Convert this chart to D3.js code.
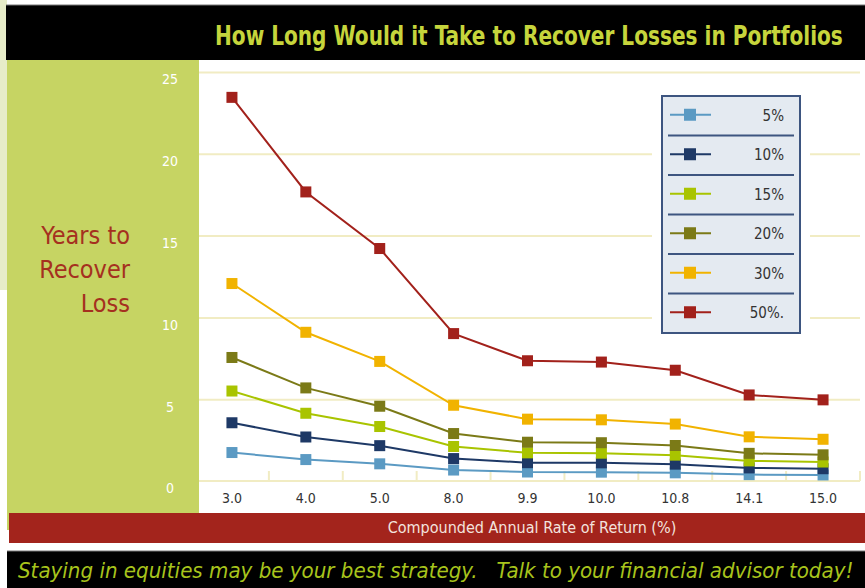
<!DOCTYPE html>
<html>
<head>
<meta charset="utf-8">
<script src="https://cdn.jsdelivr.net/npm/d3@7"></script>
<style>
  html, body { margin: 0; padding: 0; background: #fff; }
  svg { display: block; }
  text { font-family: 'Liberation Sans Narrow', 'DejaVu Sans Condensed', 'Roboto Condensed', sans-serif; }
</style>
</head>
<body>
<div id="chart"></div>
<script>
// ---------------------------------
// chart data
// ---------------------------------

var rates = ['3.0', '4.0', '5.0', '8.0', '9.9', '10.0', '10.8', '14.1', '15.0'];
var lossLabels = ['5%', '10%', '15%', '20%', '30%', '50%.'];
var yTicks = [0, 5, 10, 15, 20, 25];

// years to recover, one array per loss size
var loss5 = [1.74, 1.31, 1.05, 0.67, 0.55, 0.54, 0.50, 0.39, 0.37];
var loss10 = [3.56, 2.69, 2.16, 1.37, 1.12, 1.11, 1.03, 0.80, 0.75];
var loss15 = [5.50, 4.14, 3.33, 2.11, 1.72, 1.70, 1.58, 1.23, 1.16];
var loss20 = [7.55, 5.69, 4.57, 2.90, 2.37, 2.34, 2.17, 1.69, 1.60];
var loss30 = [12.07, 9.09, 7.31, 4.63, 3.78, 3.74, 3.48, 2.70, 2.55];
var loss50 = [23.45, 17.67, 14.21, 9.01, 7.35, 7.27, 6.77, 5.26, 4.96];

var colors = ['#5b9ac3', '#1e3966', '#a9c400', '#7b7a17', '#f1b300', '#a2211b'];

var series = [loss5, loss10, loss15, loss20, loss30, loss50].map(function (values, i) {
  return { name: lossLabels[i], color: colors[i], values: values };
});

var width = 865, height = 588;
var plot = { left: 199, right: 860, top: 72, bottom: 481 };

var svg = d3.select('#chart').append('svg')
  .attr('width', width)
  .attr('height', height);

// stretch or squeeze a text horizontally so it spans the given width
var fitText = function (text, x, y, targetWidth) {
  var natural = text.node().getComputedTextLength();
  var sx = targetWidth / natural;
  text.attr('transform', 'translate(' + x + ',' + y + ') scale(' + sx + ',1)');
};

// --------------
// page furniture
// --------------

// pale strip on the far left
svg.append('rect')
  .attr('x', 0).attr('y', 0)
  .attr('width', 7).attr('height', 290)
  .attr('fill', '#e7ecc8');

// title bar
svg.append('rect')
  .attr('x', 6).attr('y', 5)
  .attr('width', width - 6).attr('height', 55)
  .attr('fill', '#000');

svg.append('line')
  .attr('x1', 6).attr('x2', width)
  .attr('y1', 5).attr('y2', 5)
  .attr('stroke', '#777')
  .attr('stroke-width', 1);

var title = svg.append('text')
  .attr('font-size', '26px')
  .attr('font-weight', 'bold')
  .attr('fill', '#c6d53c')
  .text('How Long Would it Take to Recover Losses in Portfolios');
fitText(title, 215, 45, 628);

// green panel behind the y axis
svg.append('rect')
  .attr('x', 7).attr('y', 60)
  .attr('width', plot.left - 7).attr('height', 470)
  .attr('fill', '#c6d463');

// y axis title
var yTitle = svg.append('text')
  .attr('text-anchor', 'end')
  .attr('font-size', '25px')
  .attr('fill', '#a5301f');

['Years to', 'Recover', 'Loss'].forEach(function (line, i) {
  yTitle.append('tspan')
    .attr('x', 130)
    .attr('y', 244 + i * 34)
    .text(line);
});

// x axis title bar
svg.append('rect')
  .attr('x', 9).attr('y', 513)
  .attr('width', width - 9).attr('height', 30)
  .attr('fill', '#a3241c');

svg.append('text')
  .attr('x', 532)
  .attr('y', 533)
  .attr('text-anchor', 'middle')
  .attr('font-size', '16px')
  .attr('fill', '#f3e3de')
  .text('Compounded Annual Rate of Return (%)');

// footer bar
svg.append('rect')
  .attr('x', 7).attr('y', 551)
  .attr('width', width - 7).attr('height', height - 551)
  .attr('fill', '#000');

svg.append('line')
  .attr('x1', 7).attr('x2', width)
  .attr('y1', 551).attr('y2', 551)
  .attr('stroke', '#777')
  .attr('stroke-width', 1);

var footer = svg.append('text')
  .attr('font-size', '21px')
  .attr('font-style', 'italic')
  .attr('fill', '#a8c41c')
  .style('white-space', 'pre')
  .text('Staying in equities may be your best strategy.   Talk to your financial advisor today!');
fitText(footer, 18, 578, 836);

// ------
// scales
// ------

var x = d3.scaleBand()
  .domain(rates)
  .range([195, plot.right])
  .padding(0);

var y = d3.scaleLinear()
  .domain([0, 25])
  .range([plot.bottom, plot.top]);

// ---------
// gridlines
// ---------

var grid = svg.append('g')
  .attr('class', 'grid')
  .attr('transform', 'translate(' + plot.left + ',0)')
  .call(d3.axisRight(y).tickValues(yTicks.slice(1)).tickSize(plot.right - plot.left).tickFormat(''));

grid.select('.domain').remove();
grid.selectAll('line')
  .attr('stroke', '#f1ecc3')
  .attr('stroke-width', 2);

// y tick labels in white on the green panel
var yAxis = svg.append('g')
  .attr('class', 'y-axis')
  .attr('transform', 'translate(' + plot.left + ',0)')
  .call(d3.axisLeft(y).tickValues(yTicks).tickSize(0));

yAxis.select('.domain').remove();
yAxis.selectAll('text')
  .attr('x', -29)
  .attr('dy', '0.85em')
  .attr('text-anchor', 'middle')
  .attr('font-size', '14px')
  .attr('font-family', null)
  .attr('fill', '#fff');

// ------
// x axis
// ------

var xAxis = svg.append('g')
  .attr('class', 'x-axis')
  .attr('transform', 'translate(0,' + plot.bottom + ')')
  .call(d3.axisBottom(x).tickSize(0).tickPadding(12));

xAxis.select('.domain').remove();
xAxis.selectAll('text')
  .attr('font-size', '14px')
  .attr('font-family', null)
  .attr('fill', '#333');

svg.append('line')
  .attr('x1', plot.left).attr('x2', plot.right)
  .attr('y1', plot.bottom).attr('y2', plot.bottom)
  .attr('stroke', '#f1ecc3')
  .attr('stroke-width', 2);

// small ticks between categories, pointing up
svg.append('g')
  .attr('class', 'x-ticks')
  .selectAll('line')
  .data(rates.slice(1).concat([null]))
  .enter().append('line')
  .attr('x1', function (d) { return d === null ? x.range()[1] : x(d); })
  .attr('x2', function (d) { return d === null ? x.range()[1] : x(d); })
  .attr('y1', plot.bottom)
  .attr('y2', plot.bottom - 10)
  .attr('stroke', '#f1ecc3')
  .attr('stroke-width', 2);

// ---------------
// legend backdrop
// ---------------

var legend = { x: 662, y: 96, width: 138, height: 237 };

svg.append('rect')
  .attr('x', legend.x - 10).attr('y', legend.y - 10)
  .attr('width', legend.width + 20).attr('height', legend.height + 20)
  .attr('fill', '#fff');

// -----
// lines
// -----

var line = d3.line()
  .x(function (d, i) { return x(rates[i]) + x.bandwidth() / 2; })
  .y(function (d) { return y(d); });

var lines = svg.append('g')
  .attr('class', 'series')
  .selectAll('g')
  .data(series)
  .enter().append('g');

lines.append('path')
  .attr('d', function (d) { return line(d.values); })
  .attr('fill', 'none')
  .attr('stroke', function (d) { return d.color; })
  .attr('stroke-width', 2);

lines.selectAll('rect')
  .data(function (d) { return d.values.map(function (v, i) { return { v: v, rate: rates[i], color: d.color }; }); })
  .enter().append('rect')
  .attr('x', function (d) { return x(d.rate) + x.bandwidth() / 2 - 5.5; })
  .attr('y', function (d) { return y(d.v) - 5.5; })
  .attr('width', 11)
  .attr('height', 11)
  .attr('fill', function (d) { return d.color; });

// ------
// legend
// ------

svg.append('rect')
  .attr('x', legend.x).attr('y', legend.y)
  .attr('width', legend.width).attr('height', legend.height)
  .attr('fill', '#e4eaf1')
  .attr('stroke', '#3d5580')
  .attr('stroke-width', 2);

var rowHeight = legend.height / series.length;

var rows = svg.append('g')
  .attr('class', 'legend')
  .selectAll('g')
  .data(series)
  .enter().append('g')
  .attr('transform', function (d, i) {
    return 'translate(' + legend.x + ',' + (legend.y + i * rowHeight) + ')';
  });

// separators under every row but the last
rows.filter(function (d, i) { return i < series.length - 1; })
  .append('line')
  .attr('x1', 6).attr('x2', legend.width - 6)
  .attr('y1', rowHeight).attr('y2', rowHeight)
  .attr('stroke', '#3d5580')
  .attr('stroke-width', 2);

rows.append('line')
  .attr('x1', 8).attr('x2', 49)
  .attr('y1', rowHeight / 2 - 1).attr('y2', rowHeight / 2 - 1)
  .attr('stroke', function (d) { return d.color; })
  .attr('stroke-width', 2);

rows.append('rect')
  .attr('x', 22).attr('y', rowHeight / 2 - 7)
  .attr('width', 12).attr('height', 12)
  .attr('fill', function (d) { return d.color; });

rows.append('text')
  .attr('x', 122)
  .attr('y', rowHeight / 2 + 5)
  .attr('text-anchor', 'end')
  .attr('font-size', '15px')
  .attr('fill', '#333')
  .text(function (d) { return d.name; });
</script>
</body>
</html>
